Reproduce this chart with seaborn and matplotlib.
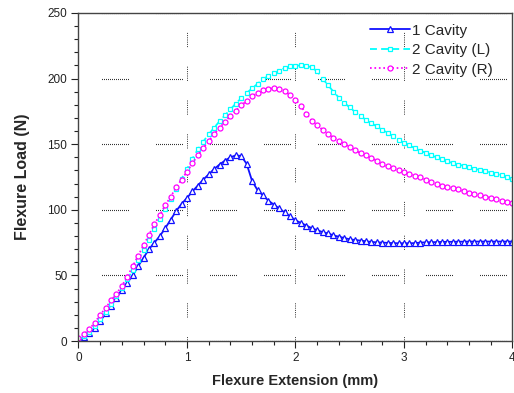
import numpy as np
import pandas as pd
import seaborn as sns
import matplotlib as mpl
from matplotlib import pyplot as plt
from matplotlib.ticker import MultipleLocator

# flexure extension (mm), one reading every 0.05 mm
extension = [0.00, 0.05, 0.10, 0.15, 0.20, 0.25, 0.30, 0.35, 0.40, 0.45,
             0.50, 0.55, 0.60, 0.65, 0.70, 0.75, 0.80, 0.85, 0.90, 0.95,
             1.00, 1.05, 1.10, 1.15, 1.20, 1.25, 1.30, 1.35, 1.40, 1.45,
             1.50, 1.55, 1.60, 1.65, 1.70, 1.75, 1.80, 1.85, 1.90, 1.95,
             2.00, 2.05, 2.10, 2.15, 2.20, 2.25, 2.30, 2.35, 2.40, 2.45,
             2.50, 2.55, 2.60, 2.65, 2.70, 2.75, 2.80, 2.85, 2.90, 2.95,
             3.00, 3.05, 3.10, 3.15, 3.20, 3.25, 3.30, 3.35, 3.40, 3.45,
             3.50, 3.55, 3.60, 3.65, 3.70, 3.75, 3.80, 3.85, 3.90, 3.95,
             4.00]

load_1cav = [1, 3, 6, 10, 15, 21, 27, 33, 39, 44.5,
             50, 57, 63.5, 70, 75, 80, 86, 92.5, 99, 104.5,
             109, 114, 118.5, 123, 127, 131, 134.5, 137.5, 140, 141.5,
             141, 135, 122, 115, 111, 107, 104, 101, 98, 95,
             92, 90, 88, 86, 84.5, 83, 82, 80.5, 79.5, 78.5,
             77.5, 77, 76.5, 76, 75.5, 75.2, 75, 74.8, 74.6, 74.5,
             74.5, 74.5, 74.6, 75, 75.2, 75.3, 75.4, 75.5, 75.6, 75.6,
             75.7, 75.7, 75.8, 75.8, 75.8, 75.8, 75.8, 75.8, 75.8, 75.8,
             75.8]

load_2cav_L = [1, 3.5, 7, 11.5, 16.5, 22, 28, 34, 40.5, 47,
               54, 61.5, 69, 77, 85, 93, 100.5, 108.5, 116, 123.5,
               131, 139, 146, 152, 157.5, 162.5, 167.5, 172, 176.5, 181,
               185, 189, 192.5, 196, 199.5, 202, 204, 206, 208, 209.3,
               209.8, 210, 209.8, 208.5, 205.5, 200, 195, 190, 185.5, 181.5,
               178, 174.5, 171.5, 168.5, 166, 163.5, 161, 158.5, 156, 153.5,
               151, 149, 147, 145, 143.5, 141.5, 140, 138.5, 137, 135.5,
               134.5, 133.5, 132.3, 131.3, 130.3, 129.3, 128.3, 127.3, 126.2, 125,
               123.5]

load_2cav_R = [2, 5, 9, 14, 20, 25, 31, 36, 42, 49,
               57, 65, 73, 81, 89, 96, 103.5, 110, 117, 123,
               129, 135.5, 141.5, 147, 152.5, 157.5, 162.5, 167, 171.5, 175.5,
               179.5, 183, 186.5, 189, 191, 192.3, 192.6, 192, 190.5, 187.5,
               184, 179, 173, 168, 164.5, 161, 158, 155, 152.5, 150,
               148, 145.5, 143, 141.5, 139.5, 137.5, 135, 133, 131.5, 130,
               128.6, 127.3, 126, 124.8, 123, 121, 119.4, 118.4, 117.4, 116.4,
               115.5, 114.3, 113, 112, 111, 110, 109, 108, 107, 106,
               105]

labels = ['1 Cavity', '2 Cavity (L)', '2 Cavity (R)']

df = pd.DataFrame({'ext': extension, labels[0]: load_1cav,
                   labels[1]: load_2cav_L, labels[2]: load_2cav_R})

sns.set_style('ticks')
plt.rcParams['font.family'] = ['Liberation Sans', 'DejaVu Sans']
plt.rcParams['lines.scale_dashes'] = False

fig = plt.figure(figsize=(5.14, 3.93), dpi=100)
ax = fig.add_axes([0.1527, 0.1323, 0.8443, 0.8347])

styles = {labels[0]: dict(color='#1010ff', marker='^', ls='-', lw=1.3, ms=4.2),
          labels[1]: dict(color='#00ffff', marker='s', ls=(0, (5, 3)), lw=1.3, ms=3.4),
          labels[2]: dict(color='#ff00ff', marker='o', ls=(0, (1.2, 2)), lw=1.3, ms=3.6)}

for lab in labels:
    st = styles[lab]
    sns.lineplot(data=df, x='ext', y=lab, ax=ax, color=st['color'],
                 marker=st['marker'], linestyle=st['ls'], lw=st['lw'],
                 ms=st['ms'], mfc='white', mec=st['color'], mew=0.9,
                 label=lab)

ax.set_xlim(0, 4)
ax.set_ylim(0, 250)
ax.xaxis.set_major_locator(MultipleLocator(1))
ax.xaxis.set_minor_locator(MultipleLocator(0.2))
ax.yaxis.set_major_locator(MultipleLocator(50))
ax.yaxis.set_minor_locator(MultipleLocator(10))
ax.tick_params(which='major', direction='out', length=5, width=0.8,
               labelsize=8.5, pad=3, colors='#222222')
ax.tick_params(which='minor', direction='out', length=3, width=0.8, colors='#222222')

# segmented dotted grid like the original software
px = 72 / 100
hpat = [v * px for v in [1, 1] * 13 + [1, 27]]
ax.yaxis.grid(True, which='major', color='#333333', lw=0.8,
              linestyle=(30.5 * px, hpat))
vpat = [v * px for v in [1, 1.2] * 6 + [1, 19.6]]
ax.xaxis.grid(True, which='major', color='#333333', lw=0.7,
              linestyle=(9.8 * px, vpat))
ax.set_axisbelow(True)

for s in ax.spines.values():
    s.set_color('#444444')
    s.set_linewidth(1.0)

ax.set_xlabel('Flexure Extension (mm)', fontsize=10.5, fontweight='bold', labelpad=7)
ax.set_ylabel('Flexure Load (N)', fontsize=11.5, fontweight='bold', labelpad=12.5)

leg = ax.legend(loc='upper right', frameon=False, fontsize=11, handlelength=2.6,
                handletextpad=0.15, labelspacing=0.36, borderaxespad=0.3,
                numpoints=1, bbox_to_anchor=(0.98, 1.0))

plt.savefig('out.png', dpi=100)
